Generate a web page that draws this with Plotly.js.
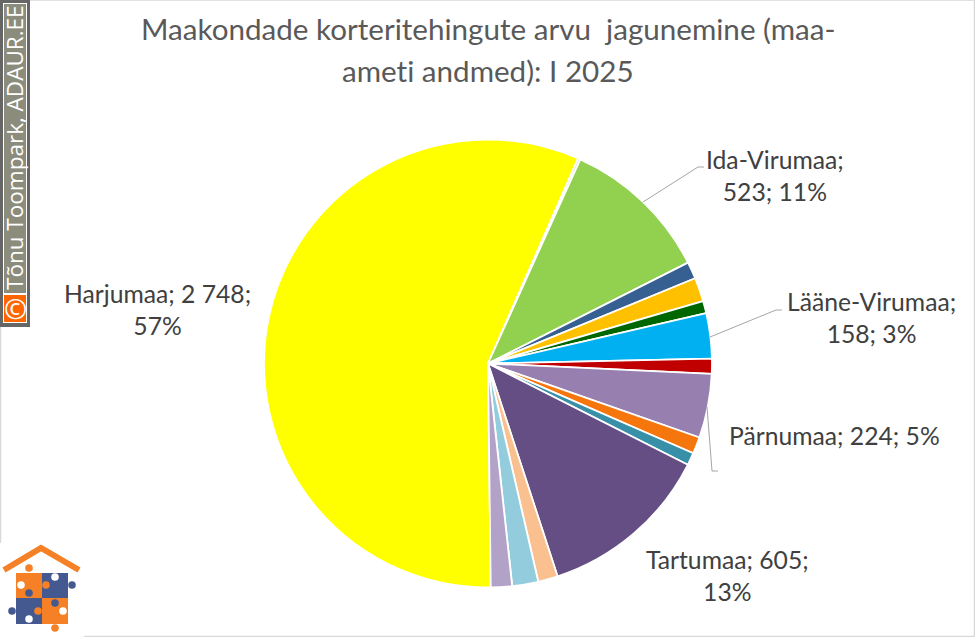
<!DOCTYPE html>
<html><head><meta charset="utf-8">
<script src="https://cdn.plot.ly/plotly-3.0.1.min.js"></script>
<style>html,body{margin:0;padding:0;background:#fff}
svg text{font-variant-ligatures:none;font-feature-settings:"liga" 0}</style></head><body>
<div id="chart" style="width:975px;height:637px"></div>
<script>
const categories = ["Harjumaa","Hiiumaa","Ida-Virumaa","Jõgevamaa","Järvamaa","Läänemaa","Lääne-Virumaa","Põlvamaa","Pärnumaa","Raplamaa","Saaremaa","Tartumaa","Valgamaa","Viljandimaa","Võrumaa"];
const values = [2748,8,523,59,83,43,158,52,224,58,44,605,69,91,74];
const colors = ["#FFFF00","#C9C9C9","#92D050","#376092","#FFC000","#006600","#00B0F0","#C00000","#977FB0","#F6760E","#378FA8","#644E84","#FAC090","#93CDDD","#B3A2C7"];
const titleLines = ["Maakondade korteritehingute arvu \u00a0jagunemine (maa-","ameti andmed): I 2025"];
const creditText = "Tõnu Toompark, ADAUR.EE";
const labelTexts = ["Harjumaa; 2 748;<br>57%","Ida-Virumaa;<br>523; 11%","Lääne-Virumaa;<br>158; 3%","Pärnumaa; 224; 5%","Tartumaa; 605;<br>13%"];
const labelPos = [[157,309],[775,175],[871,317],[834,435],[727,575]];
const leaders = [[[643,202],[698,167],[704,167]],[[710,337],[776,310],[782,310]],[[707,407],[712,471],[718,471]]];

const W=975,H=637;
const px=x=>x/W, py=y=>1-y/H;
const rect=(x0,y0,x1,y1,fill)=>({type:"rect",xref:"paper",yref:"paper",x0:px(x0),x1:px(x1),y0:py(y0),y1:py(y1),fillcolor:fill,line:{width:0},layer:"above"});
const circ=(x,y,r,fill)=>({type:"circle",xref:"paper",yref:"paper",x0:px(x-r),x1:px(x+r),y0:py(y-r),y1:py(y+r),fillcolor:fill,line:{width:0},layer:"above"});
const poly=(pts,color,width)=>({type:"path",xref:"paper",yref:"paper",path:"M"+pts.map(p=>px(p[0])+","+py(p[1])).join("L"),line:{color,width},fillcolor:"rgba(0,0,0,0)",layer:"above"});
const O="#F58025",B="#44598F",Wh="#FFFFFF";
const shapes=[
  poly([[0.5,0],[974.5,0]],"#D9D9D9",1.5), poly([[0.5,0],[0.5,636.5],[974.5,636.5],[974.5,0]],"#D9D9D9",1.5),
  rect(0,0,30,327,"#666666"), rect(3,3,27,323,"#FFFFFF"),
  rect(4,4,26,293,"#8C8C7C"), rect(4,295,26,322,"#FF6600"),
  ...leaders.map(l=>poly(l,"#A6A6A6",1)),
  rect(0,543,84,637,"#FFFFFF"),
  rect(16,573,42,598,O), rect(42,573,68,598,B), rect(16,598,42,624,B), rect(42,598,68,624,O),
  circ(29,568,3.8,O), circ(21,585,3.8,Wh), circ(55,577,3.8,Wh), circ(72,585,3.8,B), circ(46,585,3.8,O),
  circ(29,593,3.8,B), circ(38,611,3.8,O), circ(12,611,3.8,B), circ(29,619,3.8,Wh),
  circ(55,603,3.8,B), circ(63,611,3.8,Wh), circ(55,628,3.8,O),
  poly([[4,570],[41,548],[79,570]],O,6)
];
const font="Lato, Carlito, sans-serif";
const annotations=[
  ...labelTexts.map((t,i)=>({text:t,xref:"paper",yref:"paper",x:px(labelPos[i][0]),y:py(labelPos[i][1]),xanchor:"center",yanchor:"middle",showarrow:false,align:"center",font:{family:font,size:24.7,color:"#404040"}})),
  ...titleLines.map((t,i)=>({text:t,xref:"paper",yref:"paper",x:px(488),y:py(29+42*i),xanchor:"center",yanchor:"middle",showarrow:false,font:{family:font,size:29.6,color:"#595959"}})),
  {text:creditText,xref:"paper",yref:"paper",x:px(15),y:py(148),textangle:-90,xanchor:"center",yanchor:"middle",showarrow:false,font:{family:"'Open Sans', sans-serif",size:22.5,color:"#FFFFFF"}},
  {text:"©",xref:"paper",yref:"paper",x:px(15),y:py(308),xanchor:"center",yanchor:"middle",showarrow:false,font:{family:"'Open Sans', sans-serif",size:28,color:"#FFFFFF"}}
];
Plotly.newPlot("chart",[{type:"pie",labels:categories,values:values,sort:false,direction:"clockwise",rotation:179.3,
  marker:{colors:colors,line:{color:"#FFFFFF",width:1.8}},textinfo:"none",hoverinfo:"label+value+percent",showlegend:false,
  domain:{x:[264/W,712/W],y:[1-588/H,1-139/H]}}],
  {width:W,height:H,margin:{l:0,r:0,t:0,b:0},paper_bgcolor:"#FFFFFF",showlegend:false,shapes,annotations},
  {displayModeBar:false,staticPlot:true});
</script></body></html>
